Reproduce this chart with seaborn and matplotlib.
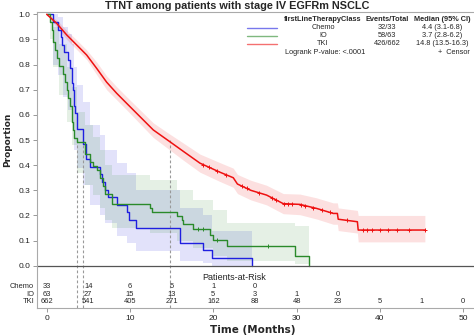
import numpy as np
import pandas as pd
import matplotlib
matplotlib.use("Agg")
import matplotlib.pyplot as plt
import seaborn as sns

# ---------------- data ----------------
chemo_t = [0, 0.8, 1.4, 1.7, 1.9, 2.1, 2.6, 2.8, 3.0, 3.1, 3.2, 3.25, 3.3, 3.4, 3.6, 3.7,
           4.4, 4.7, 5.2, 6.4, 6.7, 7.0, 7.4, 8.5, 9.7, 9.9, 10.7, 16.0, 18.8, 19.8, 24.6]
chemo_s = [1.0, .970, .939, .909, .879, .848, .818, .788, .758, .727, .697, .667, .636, .606, .576, .545,
           .485, .424, .394, .364, .333, .303, .273, .242, .212, .182, .152, .091, .061, .030, 0.0]

io_t = [0, 0.4, 0.6, 0.8, 1.0, 1.3, 1.5, 2.0, 2.2, 2.4, 2.6, 2.8, 3.0, 3.1, 3.2, 3.3, 3.7,
        4.6, 5.2, 5.6, 6.0, 6.4, 6.8, 7.0, 7.8, 12.4, 12.6, 15.6, 16.2, 16.4, 17.6, 19.6, 20.0, 21.6, 29.8, 31.5]
io_s = [1.0, .968, .937, .889, .857, .825, .794, .762, .730, .698, .667, .635, .603, .571, .540, .508, .492,
        .444, .413, .397, .381, .349, .317, .286, .246, .230, .213, .197, .182, .166, .146, .122, .102, .078, .039, 0.0]

tki_t = [0, 1.2, 2.4, 3.6, 4.8, 6.0, 7.2, 8.4, 9.6, 11.2, 12.8, 14.8, 16.4, 18.4, 20.8, 22.4, 22.9,
         24.5, 26.4, 28.4, 30.4, 32.4, 34.4, 34.9, 35.0, 37.3, 37.4, 45.4]
tki_s = [1.0, .964, .918, .878, .838, .785, .730, .686, .646, .593, .540, .493, .455, .408, .372, .350, .325,
         .300, .281, .247, .244, .228, .208, .208, .185, .175, .142, .142]
tki_lo = [1.0, .95, .90, .86, .82, .76, .70, .66, .62, .565, .51, .46, .42, .372, .335, .312, .287,
          .262, .242, .207, .203, .186, .165, .165, .14, .13, .095, .095]
tki_hi = [1.0, .978, .936, .898, .858, .81, .755, .712, .672, .62, .568, .523, .488, .444, .41, .388, .363,
          .34, .32, .287, .285, .27, .25, .25, .23, .22, .20, .20]

chemo_band_t = [0, 0.8, 1.4, 2.0, 2.6, 3.0, 3.3, 3.6, 4.4, 5.2, 6.4, 7.0, 8.5, 9.7, 10.7, 16.0, 18.8, 19.8, 24.6]
chemo_lo = [1.0, .80, .76, .67, .62, .57, .46, .39, .32, .24, .20, .17, .12, .09, .06, .02, .01, .0, .0]
chemo_hi = [1.0, 1.0, .99, .95, .92, .88, .79, .72, .65, .56, .52, .46, .41, .37, .30, .23, .20, .14, .14]

io_band_t = [0, 0.4, 0.8, 1.5, 2.4, 3.0, 3.7, 4.6, 5.6, 6.4, 7.0, 7.8, 12.4, 15.6, 17.6, 20.0, 21.6, 29.8, 31.5]
io_lo = [1.0, .90, .79, .68, .57, .48, .37, .32, .28, .23, .18, .15, .13, .10, .07, .04, .02, .005, .005]
io_hi = [1.0, 1.0, .95, .88, .79, .71, .61, .56, .51, .46, .40, .36, .34, .30, .26, .22, .17, .16, .16]

tki_censor = [18.8, 19.5, 20.5, 21.5, 23.5, 24.0, 25.5, 27.0, 27.5, 28.5, 29.0, 29.5, 30.5, 31.0,
              32.0, 33.0, 34.0, 36.0, 38.0, 38.5, 39.0, 40.0, 41.0, 42.0, 43.5, 45.4]
io_censor = [18.2, 18.8, 20.4, 26.6]

medians = [3.7, 4.4, 14.8]

risk_times = [0, 5, 10, 15, 20, 25, 30, 35, 40, 45, 50]
risk_chemo = [33, 14, 6, 5, 1, 0]
risk_io = [63, 27, 15, 13, 5, 3, 1, 0]
risk_tki = [662, 541, 405, 271, 162, 88, 48, 23, 5, 1, 0]

groups = ["Chemo", "IO", "TKI"]
events = ["32/33", "58/63", "426/662"]
median_txt = ["4.4 (3.1-6.8)", "3.7 (2.8-6.2)", "14.8 (13.5-16.3)"]

# ---------------- style ----------------
sns.set_theme(style="white")
plt.rcParams['font.family'] = ['Liberation Sans', 'DejaVu Sans']
colors = {"Chemo": "#1f1fe0", "IO": "#2a8a2a", "TKI": "#ee1111"}

fig = plt.figure(figsize=(4.74, 3.36), dpi=100)
ax = fig.add_axes([37/474, 28/336, 437/474, 296/336])

# bands
ax.fill_between(chemo_band_t, chemo_lo, chemo_hi, step="post", color=colors["Chemo"], alpha=0.13, lw=0)
ax.fill_between(io_band_t, io_lo, io_hi, step="post", color=colors["IO"], alpha=0.12, lw=0)
ax.fill_between(tki_t, tki_lo, tki_hi, color=colors["TKI"], alpha=0.13, lw=0)

df_c = pd.DataFrame({"t": chemo_t, "s": chemo_s})
df_i = pd.DataFrame({"t": io_t, "s": io_s})
df_k = pd.DataFrame({"t": tki_t, "s": tki_s})
sns.lineplot(data=df_c, x="t", y="s", ax=ax, color=colors["Chemo"], lw=1.0,
             estimator=None, sort=False, drawstyle="steps-post")
sns.lineplot(data=df_i, x="t", y="s", ax=ax, color=colors["IO"], lw=1.0,
             estimator=None, sort=False, drawstyle="steps-post")
sns.lineplot(data=df_k, x="t", y="s", ax=ax, color=colors["TKI"], lw=1.1,
             estimator=None, sort=False)

# censor marks
ax.plot(tki_censor, np.interp(tki_censor, tki_t, tki_s), ls="none", marker="+",
        ms=2.8, mew=0.7, color=colors["TKI"])
io_y = [io_s[np.searchsorted(io_t, c, side="right") - 1] for c in io_censor]
ax.plot(io_censor, io_y, ls="none", marker="+", ms=2.8, mew=0.7, color=colors["IO"])

ax.set_xlim(-1.16, 51.3)
ax.set_ylim(-0.168, 1.009)

# median lines
for m in medians:
    ax.plot([m, m], [0.5, -0.168], color="#999999", lw=0.8, ls=(0, (2.5, 2)), zorder=1)

ax.axhline(0, color="#555555", lw=0.9)

ax.set_yticks(np.arange(0, 1.01, 0.1))
ax.set_yticklabels([f"{v:.1f}" for v in np.arange(0, 1.01, 0.1)], fontsize=6, color="#222222")
ax.set_xticks(risk_times[::2])
ax.set_xticklabels([str(v) for v in risk_times[::2]], fontsize=6, color="#222222")
ax.tick_params(axis="both", length=3, width=0.6, color="#888888", pad=2, left=True, bottom=True)
ax.set_xlabel("")
ax.set_ylabel("")
for side in ["left", "top", "bottom"]:
    ax.spines[side].set_color("#aaaaaa")
    ax.spines[side].set_linewidth(0.8)
ax.spines["right"].set_visible(False)

ax.text(-0.068, (0.5 + 0.168) / (1.009 + 0.168), "Proportion", transform=ax.transAxes,
        rotation=90, ha="center", va="center", fontsize=6.5, fontweight="bold",
        family="DejaVu Sans")
fig.text(253/474, 1 - 330/336, "Time (Months)", ha="center", va="center",
         fontsize=7.5, fontweight="bold", family="DejaVu Sans")
fig.text(237/474, 1 - 6/336, "TTNT among patients with stage IV EGFRm NSCLC", ha="center",
         va="center", fontsize=7.8, fontweight="bold")

# risk table
ax.text(22.5, -0.045, "Patients-at-Risk", ha="center", va="center", fontsize=6.5)
for lab, vals, yy in zip(groups, [risk_chemo, risk_io, risk_tki], [-0.081, -0.113, -0.144]):
    ax.text(-1.5, yy, lab, ha="right", va="center", fontsize=5.4, clip_on=False)
    for tt, v in zip(risk_times, vals):
        ax.text(tt, yy, str(v), ha="center", va="center", fontsize=5.4)

# legend table (figure pixel coords)
def fx(px):
    return px / 474
def fy(py):
    return 1 - py / 336

fs = 5.3
fig.text(fx(323), fy(19.5), "firstLineTherapyClass", ha="center", va="center", fontsize=fs, fontweight="bold")
fig.text(fx(387), fy(19.5), "Events/Total", ha="center", va="center", fontsize=fs, fontweight="bold")
fig.text(fx(442), fy(19.5), "Median (95% CI)", ha="center", va="center", fontsize=fs, fontweight="bold")
for i, g in enumerate(groups):
    yy = [27.5, 35.5, 43.7][i]
    fig.add_artist(plt.Line2D([fx(247), fx(277)], [fy(yy), fy(yy)], color=colors[g], lw=1.0, alpha=0.6))
    fig.text(fx(323), fy(yy), g, ha="center", va="center", fontsize=fs)
    fig.text(fx(387), fy(yy), events[i], ha="center", va="center", fontsize=fs)
    fig.text(fx(442), fy(yy), median_txt[i], ha="center", va="center", fontsize=fs)
fig.text(fx(285), fy(52.3), "Logrank P-value: <.0001", ha="left", va="center", fontsize=fs)
fig.text(fx(470), fy(52.3), "+  Censor", ha="right", va="center", fontsize=fs)

fig.savefig("out.png", dpi=100)
